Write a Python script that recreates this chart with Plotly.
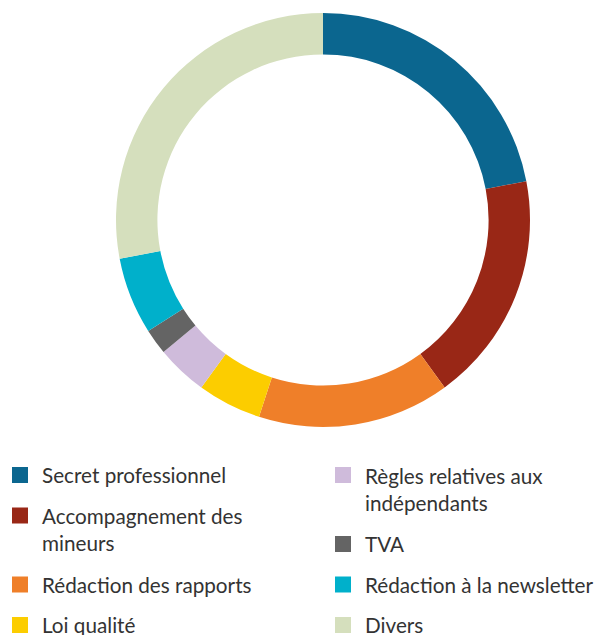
import plotly.graph_objects as go

# ---- data ----
labels = ["Secret professionnel", "Accompagnement des mineurs", "Rédaction des rapports",
          "Loi qualité", "Règles relatives aux indépendants", "TVA",
          "Rédaction à la newsletter", "Divers"]
values = [22, 18, 15, 5, 4, 2, 6, 28]
colors = ["#0b668f", "#992716", "#ef7f29", "#fccd00", "#cfbbdb", "#646464", "#00b0cb", "#d5dfbd"]
legend_text = ["Secret professionnel", "Accompagnement des<br>mineurs", "Rédaction des rapports",
               "Loi qualité", "Règles relatives aux<br>indépendants", "TVA",
               "Rédaction à la newsletter", "Divers"]

W, H = 601, 635
cx, cy, R = 323, 220, 207

fig = go.Figure(go.Pie(
    labels=labels, values=values, sort=False, direction="clockwise", rotation=0,
    hole=0.80, marker=dict(colors=colors, line=dict(width=0)),
    textinfo="none", showlegend=False,
    domain=dict(x=[(cx - R) / W, (cx + R) / W], y=[(H - cy - R) / H, (H - cy + R) / H]),
))

# ---- custom two-column legend ----
font_size = 20.7
line_h = 28.5
pitch = 40.5
sq = 16
col_x = [12, 335]
text_dx = 28
shapes, annots = [], []
for col in range(2):
    top = 467.0
    for k in range(4):
        i = col * 4 + k
        nlines = legend_text[i].count("<br>") + 1
        x0 = col_x[col]
        shapes.append(dict(type="rect", xref="paper", yref="paper",
                           x0=x0 / W, x1=(x0 + sq) / W,
                           y0=1 - (top + sq) / H, y1=1 - top / H,
                           fillcolor=colors[i], line=dict(width=0)))
        centre = top + sq / 2 + (nlines - 1) * line_h / 2
        annots.append(dict(xref="paper", yref="paper", x=(x0 + text_dx) / W, y=1 - centre / H,
                           xanchor="left", yanchor="middle", showarrow=False, align="left",
                           text=legend_text[i],
                           font=dict(family="Lato", size=font_size, color="#333333")))
        top += pitch + (nlines - 1) * line_h

fig.update_layout(width=W, height=H, margin=dict(l=0, r=0, t=0, b=0),
                  paper_bgcolor="white", plot_bgcolor="white",
                  shapes=shapes, annotations=annots)

fig.write_html("out.html")
